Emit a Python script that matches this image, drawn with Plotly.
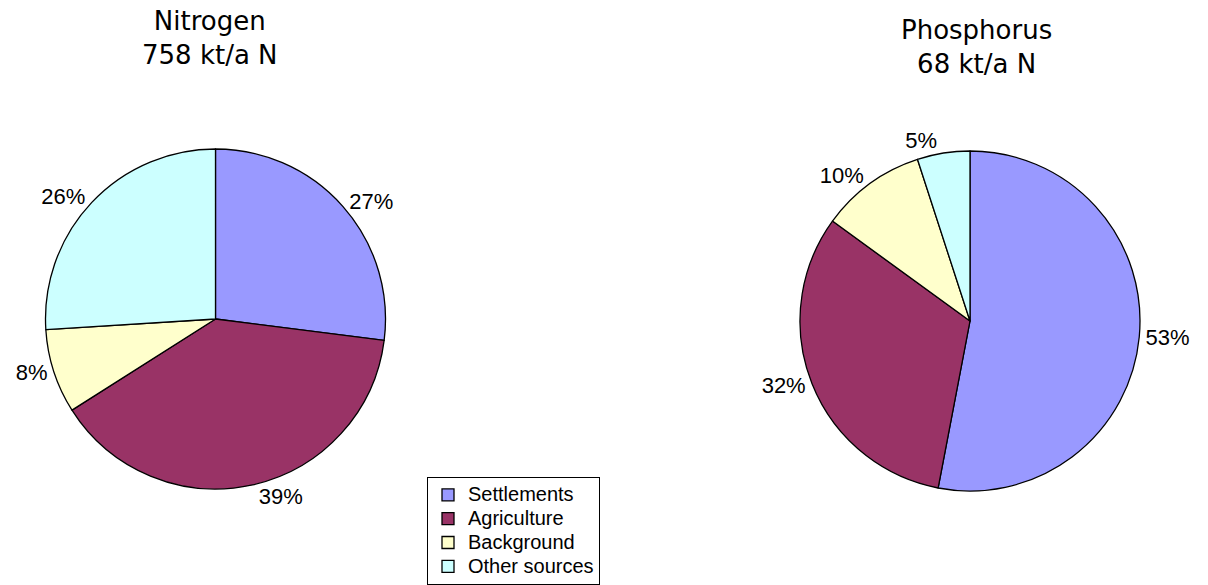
import plotly.graph_objects as go

sources = ["Settlements", "Agriculture", "Background", "Other sources"]
nitrogen_share = [27, 39, 8, 26]
phosphorus_share = [53, 32, 10, 5]
nitrogen_title = "Nitrogen<br>758 kt/a N"
phosphorus_title = "Phosphorus<br>68 kt/a N"

colors = ["#9999FF", "#993366", "#FFFFCC", "#CCFFFF"]
W, H = 1208, 585

# bigger legend text while keeping the tight row spacing of a small legend font
legend_names = ["<span style='font-size:20px'>%s</span>" % s for s in sources]


def dom(cx, cy, r):
    # pie square in pixels -> paper coords (cy measured from top)
    return dict(x=[(cx - r) / W, (cx + r) / W],
                y=[(H - cy - r) / H, (H - cy + r) / H])


fig = go.Figure()
fig.add_trace(go.Pie(labels=legend_names, values=nitrogen_share, sort=False, direction="clockwise",
                     rotation=0, marker=dict(colors=colors, line=dict(color="black", width=1.3)),
                     textposition="outside", texttemplate="%{value}%",
                     textfont=dict(family="Liberation Sans", size=22, color="black"),
                     domain=dom(215.5, 319, 170), hovertext=sources, hoverinfo="text+percent"))
fig.add_trace(go.Pie(labels=legend_names, values=phosphorus_share, sort=False, direction="clockwise",
                     rotation=0, marker=dict(colors=colors, line=dict(color="black", width=1.3)),
                     textposition="outside", texttemplate="%{value}%",
                     textfont=dict(family="Liberation Sans", size=22, color="black"),
                     domain=dom(970, 321, 170), showlegend=False, hovertext=sources, hoverinfo="text+percent"))

fig.add_annotation(x=209.5 / W, y=1 - 4 / H, xref="paper", yref="paper", text=nitrogen_title,
                   showarrow=False, xanchor="center", yanchor="top",
                   font=dict(family="DejaVu Sans", size=26, color="black"))
fig.add_annotation(x=976 / W, y=1 - 13 / H, xref="paper", yref="paper", text=phosphorus_title,
                   showarrow=False, xanchor="center", yanchor="top",
                   font=dict(family="DejaVu Sans", size=26, color="black"))

fig.update_layout(
    width=W, height=H, autosize=False,
    margin=dict(l=0, r=0, t=0, b=0),
    paper_bgcolor="white", plot_bgcolor="white",
    legend=dict(x=427 / W, y=1 - 477 / H, xanchor="left", yanchor="top",
                bordercolor="black", borderwidth=1, bgcolor="white",
                font=dict(family="Liberation Sans", size=16, color="black"),
                itemwidth=30, tracegroupgap=0),
)

clip_js = ("document.body.style.margin='0';document.body.style.overflow='hidden';"
           "document.querySelectorAll('.svg-container').forEach(function(s){s.style.overflow='hidden';});")
fig.write_html("out.html", post_script=clip_js, config={"responsive": False, "displayModeBar": False})
